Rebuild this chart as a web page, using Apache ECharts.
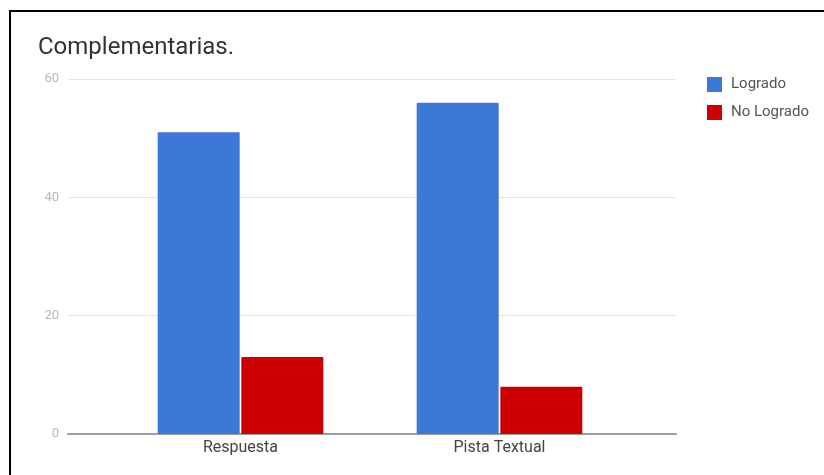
<!DOCTYPE html>
<html>
<head>
<meta charset="utf-8">
<script src="https://cdn.jsdelivr.net/npm/echarts@6/dist/echarts.min.js"></script>
<style>
  html, body { margin: 0; padding: 0; background: #fff; overflow: hidden; }
  #chart { width: 824px; height: 475px; }
</style>
</head>
<body>
<div id="chart"></div>
<script>
// Data
const categories = ['Respuesta', 'Pista Textual'];
const logrado = [51, 56];
const noLogrado = [13, 8];
const seriesNames = ['Logrado', 'No Logrado'];
const yTicks = { min: 0, max: 60, step: 20 };

const chart = echarts.init(document.getElementById('chart'), null, { renderer: 'canvas' });

const font = 'Roboto, "Noto Sans", Arial, sans-serif';

const option = {
  animation: false,
  backgroundColor: '#fff',
  // dark frame along the top and left edges of the panel
  graphic: [
    {
      type: 'polyline', silent: true, z: 100,
      shape: { points: [[10, 475], [10, 11], [824, 11]] },
      style: { stroke: '#000', lineWidth: 2, fill: null }
    }
  ],
  title: {
    text: 'Complementarias.',
    left: 33, top: 31,
    textStyle: { fontFamily: font, fontSize: 24, fontWeight: 'normal', color: '#333' }
  },
  legend: {
    orient: 'vertical',
    left: 702, top: 72,
    icon: 'rect',
    itemWidth: 15, itemHeight: 15, itemGap: 13,
    data: seriesNames,
    textStyle: { fontFamily: font, fontSize: 15, color: '#555', padding: [0, 0, 0, 4] }
  },
  grid: [
    // full-width area carrying the value gridlines and baseline
    { left: 68, right: 148, top: 79, bottom: 41 },
    // inner area where the category bands sit
    { left: 111, right: 195, top: 79, bottom: 41 }
  ],
  xAxis: [
    {
      gridIndex: 0, type: 'value', min: 0, max: 1,
      axisLine: { show: true, onZero: false, lineStyle: { color: '#9e9e9e', width: 2 } },
      axisTick: { show: false }, axisLabel: { show: false }, splitLine: { show: false }
    },
    {
      gridIndex: 1, type: 'category', data: categories,
      axisLine: { show: false }, axisTick: { show: false },
      axisLabel: { fontFamily: font, fontSize: 16, color: '#444', margin: 6 }
    }
  ],
  yAxis: [
    {
      gridIndex: 0, type: 'value', min: yTicks.min, max: yTicks.max, interval: yTicks.step,
      axisLine: { show: false }, axisTick: { show: false },
      axisLabel: { fontFamily: font, fontSize: 13, color: '#b8b8b8', margin: 9 },
      splitLine: { lineStyle: { color: '#e3e3e3', width: 1 } }
    },
    {
      gridIndex: 1, type: 'value', min: yTicks.min, max: yTicks.max, interval: yTicks.step,
      axisLine: { show: false }, axisTick: { show: false },
      axisLabel: { show: false }, splitLine: { show: false }
    }
  ],
  series: [
    {
      name: seriesNames[0], type: 'bar', xAxisIndex: 1, yAxisIndex: 1,
      data: logrado, barWidth: 82, barGap: '2%',
      itemStyle: { color: '#3c78d8', borderRadius: [1, 1, 0, 0] }
    },
    {
      name: seriesNames[1], type: 'bar', xAxisIndex: 1, yAxisIndex: 1,
      data: noLogrado, barWidth: 82, barGap: '2%',
      itemStyle: { color: '#cc0000', borderRadius: [1, 1, 0, 0] }
    }
  ]
};

chart.setOption(option);
</script>
</body>
</html>
